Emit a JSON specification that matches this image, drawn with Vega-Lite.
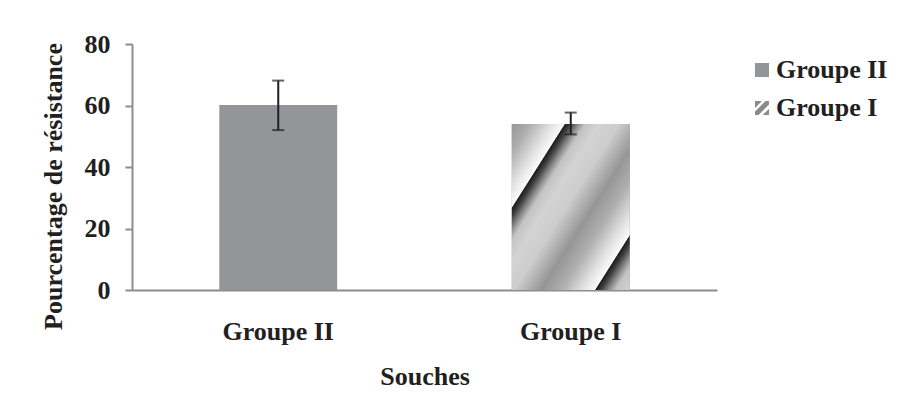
{
  "$schema": "https://vega.github.io/schema/vega-lite/v6.json",
  "width": 585,
  "height": 246,
  "autosize": {"type": "none"},
  "padding": {"left": 132, "top": 44, "right": 188, "bottom": 109},
  "background": "white",
  "config": {
    "view": {"stroke": null},
    "font": "Liberation Serif",
    "axis": {
      "labelFont": "Liberation Serif",
      "labelFontWeight": "bold",
      "labelFontSize": 26,
      "labelColor": "#231f20",
      "titleFont": "Liberation Serif",
      "titleFontWeight": "bold",
      "titleFontSize": 26,
      "titleColor": "#231f20",
      "domainColor": "#8c8c8c",
      "domainWidth": 2,
      "tickColor": "#8c8c8c",
      "tickWidth": 2,
      "grid": false
    },
    "legend": {
      "orient": "none", "title": null,
      "symbolType": "square", "symbolSize": 196, "symbolStrokeWidth": 0,
      "labelFont": "Liberation Serif", "labelFontWeight": "bold", "labelFontSize": 26,
      "labelColor": "#231f20", "labelOffset": 1, "labelLimit": 300
    }
  },
  "data": {
    "values": [
      {"Souche": "Groupe II", "Pourcentage": 60.2, "lo": 52.0, "hi": 68.1},
      {"Souche": "Groupe I", "Pourcentage": 54.0, "lo": 50.6, "hi": 57.7}
    ]
  },
  "encoding": {
    "x": {
      "field": "Souche", "type": "nominal", "sort": null,
      "scale": {"domain": ["Groupe II", "Groupe I"], "paddingInner": 0.597, "paddingOuter": 0.2985},
      "title": "Souches",
      "axis": {"ticks": false, "tickSize": 0, "labelPadding": 28, "labelAngle": 0, "labelLimit": 300, "titleY": 94, "titleBaseline": "alphabetic"}
    }
  },
  "layer": [
    {
      "transform": [{"filter": "datum.Souche === 'Groupe II'"}],
      "mark": {"type": "bar"},
      "encoding": {
        "y": {
          "field": "Pourcentage", "type": "quantitative",
          "scale": {"domain": [0, 80]},
          "title": "Pourcentage de résistance",
          "axis": {"values": [0, 20, 40, 60, 80], "tickSize": 7, "labelPadding": 15, "titleX": -71, "titleY": 142, "titleBaseline": "alphabetic"}
        },
        "color": {
          "field": "Souche", "type": "nominal",
          "scale": {"domain": ["Groupe II"], "range": ["#939598"]},
          "legend": {"legendX": 617, "legendY": 13}
        }
      }
    },
    {
      "transform": [{"filter": "datum.Souche === 'Groupe I'"}],
      "mark": {"type": "bar"},
      "encoding": {
        "y": {"field": "Pourcentage", "type": "quantitative", "title": "Pourcentage de résistance"},
        "fill": {
          "field": "Souche", "type": "nominal",
          "scale": {"domain": ["Groupe I"], "range": ["#8a8a8a"]},
          "legend": {
            "legendX": 617, "legendY": 51,
            "symbolType": "M-1,-1L0,-1L-1,0Z M0.5,-1L1,-1L1,-0.5L-0.5,1L-1,1L-1,0.5Z M0.1,1L1,1L1,0.1Z"
          }
        }
      }
    },
    {
      "transform": [{"filter": "datum.Souche === 'Groupe I'"}],
      "mark": {
        "type": "bar",
        "color": {
          "gradient": "linear", "x1": 0, "y1": 0, "x2": 1.054, "y2": 0.939,
          "stops": [
            {"offset": 0.0, "color": "#969696"},
            {"offset": 0.086, "color": "#afafaf"},
            {"offset": 0.177, "color": "#e1e1e1"},
            {"offset": 0.236, "color": "#fafafa"},
            {"offset": 0.24, "color": "#1e1e1e"},
            {"offset": 0.262, "color": "#3c3c3c"},
            {"offset": 0.299, "color": "#8c8c8c"},
            {"offset": 0.329, "color": "#c3c3c3"},
            {"offset": 0.39, "color": "#d2d3d2"},
            {"offset": 0.481, "color": "#cdcdcd"},
            {"offset": 0.602, "color": "#969696"},
            {"offset": 0.693, "color": "#afafaf"},
            {"offset": 0.784, "color": "#e1e1e1"},
            {"offset": 0.843, "color": "#fafafa"},
            {"offset": 0.847, "color": "#1e1e1e"},
            {"offset": 0.869, "color": "#3c3c3c"},
            {"offset": 0.906, "color": "#8c8c8c"},
            {"offset": 0.936, "color": "#c3c3c3"},
            {"offset": 1.0, "color": "#d2d3d2"}
          ]
        }
      },
      "encoding": {
        "y": {"field": "Pourcentage", "type": "quantitative", "title": "Pourcentage de résistance"}
      }
    },
    {
      "mark": {"type": "errorbar", "ticks": true, "size": 12, "thickness": 2, "color": "#231f20"},
      "encoding": {
        "y": {"field": "lo", "type": "quantitative", "title": "Pourcentage de résistance"},
        "y2": {"field": "hi"}
      }
    }
  ]
}
